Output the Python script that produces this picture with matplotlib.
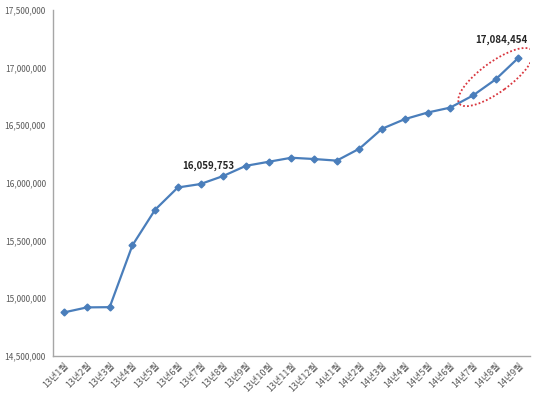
import matplotlib.pyplot as plt
import matplotlib.ticker as mticker
from matplotlib.patches import Ellipse
from matplotlib.transforms import ScaledTranslation

plt.rcParams['font.family'] = ['Noto Sans CJK KR', 'DejaVu Sans']

# Monthly values (13년1월 ~ 14년9월)
months = ['13년1월', '13년2월', '13년3월', '13년4월', '13년5월', '13년6월',
          '13년7월', '13년8월', '13년9월', '13년10월', '13년11월', '13년12월',
          '14년1월', '14년2월', '14년3월', '14년4월', '14년5월', '14년6월',
          '14년7월', '14년8월', '14년9월']
values = [14877000, 14920000, 14922000, 15458000, 15767000, 15960000,
          15990000, 16059753, 16148000, 16183000, 16218000, 16207000,
          16193000, 16297000, 16470000, 16553000, 16610000, 16653000,
          16758000, 16898000, 17084454]

line_color = '#4a7ebb'
axis_color = '#a6a6a6'
text_color = '#595959'

fig = plt.figure(figsize=(5.4, 3.98), dpi=100)
ax = fig.add_axes([0.098, 0.106, 0.883, 0.869])

x = list(range(len(months)))
ax.plot(x, values, color=line_color, linewidth=1.6, marker='D', markersize=3.5,
        markerfacecolor=line_color, markeredgecolor=line_color)

ax.set_xlim(-0.5, len(months) - 0.5)
ax.set_ylim(14500000, 17500000)
ax.yaxis.set_major_locator(mticker.MultipleLocator(500000))
ax.yaxis.set_major_formatter(mticker.FuncFormatter(lambda v, p: f'{int(v):,}'))

ax.set_xticks(x)
ax.set_xticklabels(months, rotation=45, ha='right', rotation_mode='anchor',
                   fontsize=6.5, color=text_color)
ax.tick_params(axis='y', labelsize=6, colors=text_color, length=0, pad=5)
ax.tick_params(axis='x', length=0, pad=4)

for side in ['top', 'right']:
    ax.spines[side].set_visible(False)
for side in ['left', 'bottom']:
    ax.spines[side].set_color(axis_color)
    ax.spines[side].set_linewidth(1)

# value labels
ax.annotate(f'{values[7]:,}', (7, values[7]), xytext=(-11, 3.5),
            textcoords='offset points', ha='center', va='bottom', fontsize=7,
            fontweight='bold', color='#262626')
ax.annotate(f'{values[-1]:,}', (20, values[-1]), xytext=(-12, 9.5),
            textcoords='offset points', ha='center', va='bottom', fontsize=7,
            fontweight='bold', color='#262626')

# red dotted ellipse around the last months
trans = fig.dpi_scale_trans + ScaledTranslation(19, values[19] + 20000, ax.transData)
ell = Ellipse((0, 0), width=0.90, height=0.30, angle=36, transform=trans,
              fill=False, edgecolor='#d9363e', linestyle=(0, (1, 1.2)), linewidth=1.3)
ax.add_patch(ell)

fig.savefig('out.png', dpi=100)
